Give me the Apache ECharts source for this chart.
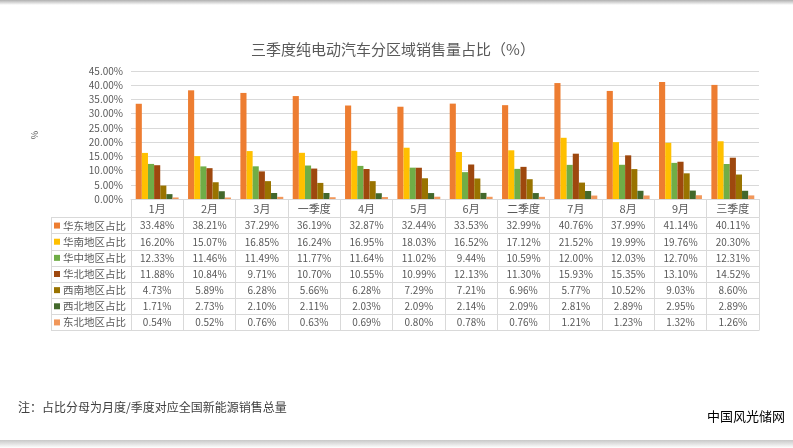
<!DOCTYPE html>
<html>
<head>
<meta charset="utf-8">
<script src="https://cdn.jsdelivr.net/npm/echarts@6/dist/echarts.min.js"></script>
<style>
html,body{margin:0;padding:0;background:#fff;}
#c{width:793px;height:448px;}
</style>
</head>
<body>
<div id="c"></div>
<script>
const categories = ['1月','2月','3月','一季度','4月','5月','6月','二季度','7月','8月','9月','三季度'];
const seriesNames = ['华东地区占比','华南地区占比','华中地区占比','华北地区占比','西南地区占比','西北地区占比','东北地区占比'];
const huadong  = [33.48,38.21,37.29,36.19,32.87,32.44,33.53,32.99,40.76,37.99,41.14,40.11];
const huanan   = [16.20,15.07,16.85,16.24,16.95,18.03,16.52,17.12,21.52,19.99,19.76,20.30];
const huazhong = [12.33,11.46,11.49,11.77,11.64,11.02,9.44,10.59,12.00,12.03,12.70,12.31];
const huabei   = [11.88,10.84,9.71,10.70,10.55,10.99,12.13,11.30,15.93,15.35,13.10,14.52];
const xinan    = [4.73,5.89,6.28,5.66,6.28,7.29,7.21,6.96,5.77,10.52,9.03,8.60];
const xibei    = [1.71,2.73,2.10,2.11,2.03,2.09,2.14,2.09,2.81,2.89,2.95,2.89];
const dongbei  = [0.54,0.52,0.76,0.63,0.69,0.80,0.78,0.76,1.21,1.23,1.32,1.26];
const yTicks = {min:0, max:45, interval:5};
const titleText = '三季度纯电动汽车分区域销售量占比（%）';
const noteText = '注：占比分母为月度/季度对应全国新能源销售总量';
const watermark = '中国风光储网';

const allSeries = [huadong,huanan,huazhong,huabei,xinan,xibei,dongbei];
const colors = ['#ED7D31','#FFC000','#70AD47','#9E480E','#997300','#43682B','#F1975A'];
const FONT = '"Noto Sans CJK SC","Noto Sans",sans-serif';
const grey = '#d9d9d9';
const txt = '#595959';

const rich = {t:{fontSize:10.5,color:txt,fontFamily:FONT,padding:[0,0,0,3]}};
colors.forEach((c,i)=>{rich['s'+i]={width:6,height:6,backgroundColor:c};});

const tableData = [];
allSeries.forEach((arr,ri)=>arr.forEach((v,ci)=>tableData.push([ci,ri,v])));

const chart = echarts.init(document.getElementById('c'), null, {renderer:'canvas'});
chart.setOption({
  backgroundColor:'#fff',
  animation:false,
  title:{text:titleText,left:388,top:37,textAlign:'center',
    textStyle:{fontSize:15,fontWeight:'normal',color:txt,fontFamily:FONT}},
  grid:[
    {left:131,right:34,top:71,height:128},
    {left:131,right:34,top:217.5,height:113}
  ],
  xAxis:[
    {type:'category',gridIndex:0,data:categories,
      axisLine:{show:true,lineStyle:{color:grey,width:1}},
      axisTick:{show:true,alignWithLabel:false,length:18.5,interval:0,lineStyle:{color:grey,width:1}},
      axisLabel:{show:true,interval:0,margin:10,verticalAlign:'middle',fontSize:11,color:txt,fontFamily:FONT},
      splitLine:{show:false}},
    {type:'category',gridIndex:1,data:categories,position:'top',
      axisLine:{show:true,lineStyle:{color:grey,width:1}},
      axisTick:{show:false},axisLabel:{show:false},
      splitLine:{show:true,interval:0,lineStyle:{color:grey,width:1}}}
  ],
  yAxis:[
    {type:'value',gridIndex:0,min:yTicks.min,max:yTicks.max,interval:yTicks.interval,
      name:'%',nameLocation:'middle',nameGap:92,nameRotate:90,
      nameTextStyle:{fontSize:9,color:txt,fontFamily:FONT},
      axisLine:{show:false},axisTick:{show:false},
      axisLabel:{formatter:v=>v.toFixed(2)+'%',fontSize:10,color:txt,fontFamily:FONT,margin:8},
      splitLine:{show:true,lineStyle:{color:grey,width:1}}},
    {type:'category',gridIndex:1,data:seriesNames,inverse:true,
      axisLine:{show:true,lineStyle:{color:grey,width:1}},
      axisTick:{show:true,alignWithLabel:false,length:80,interval:0,lineStyle:{color:grey,width:1}},
      axisLabel:{show:true,interval:0,align:'left',margin:77,
        formatter:(v,i)=>'{s'+i+'|}{t|'+v+'}',rich:rich},
      splitLine:{show:true,interval:0,lineStyle:{color:grey,width:1}}},
    {type:'category',gridIndex:1,data:seriesNames,inverse:true,offset:80,position:'left',
      axisLine:{show:true,lineStyle:{color:grey,width:1}},
      axisTick:{show:false},axisLabel:{show:false},splitLine:{show:false}}
  ],
  series: allSeries.map((arr,i)=>({
    name:seriesNames[i],type:'bar',xAxisIndex:0,yAxisIndex:0,data:arr,
    barGap:'0%',barCategoryGap:'18%',
    itemStyle:{color:colors[i]},
    emphasis:{disabled:true}
  })).concat([{
    type:'heatmap',xAxisIndex:1,yAxisIndex:1,data:tableData,
    itemStyle:{color:'rgba(0,0,0,0)'},
    label:{show:true,formatter:p=>p.value[2].toFixed(2)+'%',fontSize:10,color:txt,fontFamily:FONT},
    emphasis:{disabled:true}
  }]),
  graphic:[
    {type:'rect',left:0,top:0,shape:{width:793,height:5},silent:true,
      style:{fill:new echarts.graphic.LinearGradient(0,0,0,1,[{offset:0,color:'#b0b0b0'},{offset:1,color:'#ffffff'}])}},
    {type:'rect',left:0,top:440,shape:{width:793,height:8},silent:true,
      style:{fill:new echarts.graphic.LinearGradient(0,0,0,1,[{offset:0,color:'#c8c8c8'},{offset:1,color:'#ffffff'}])}},
    {type:'text',left:18,top:401,silent:true,
      style:{text:noteText,fontSize:12,fill:'#404040',fontFamily:FONT}},
    {type:'text',left:707,top:410,silent:true,
      style:{text:watermark,fontSize:13,fill:'#000',fontFamily:FONT}}
  ]
});
</script>
</body>
</html>
